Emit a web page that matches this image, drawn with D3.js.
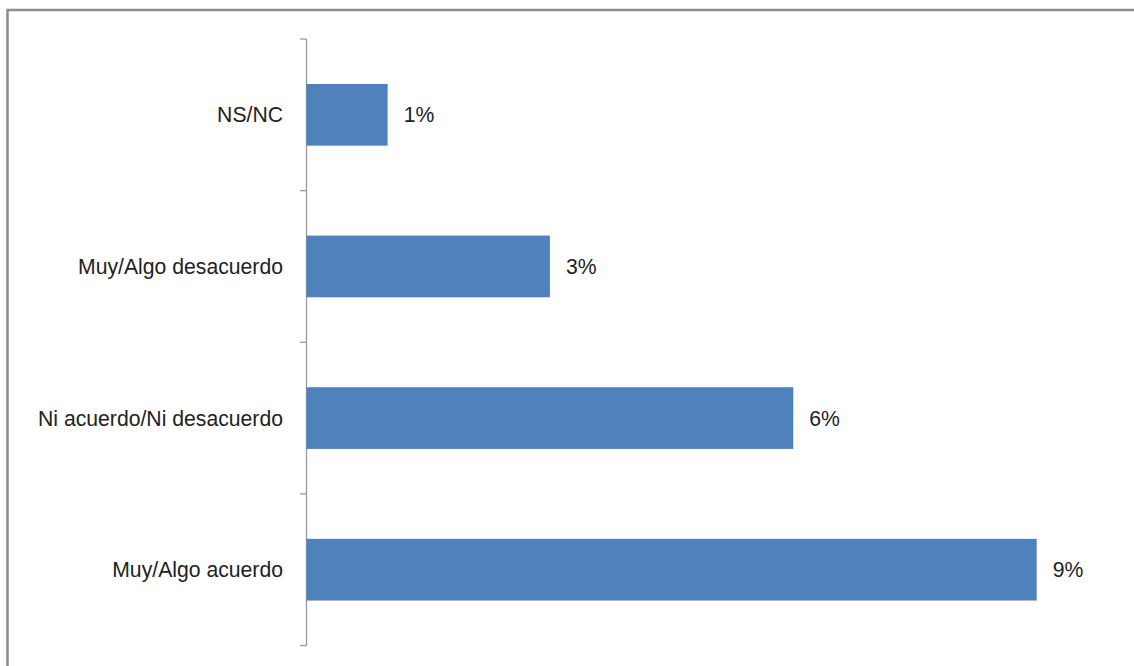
<!DOCTYPE html>
<html>
<head>
<meta charset="utf-8">
<script src="https://cdn.jsdelivr.net/npm/d3@7"></script>
<style>
  body { margin: 0; background: #fff; }
  svg { display: block; }
  .cat_label, .val_label { font-family: "Liberation Sans", Arial, sans-serif; font-size: 21.2px; fill: #222; }
</style>
</head>
<body>
<svg width="1134" height="666"></svg>
<script>
// chart data, top to bottom
const categories = ['NS/NC', 'Muy/Algo desacuerdo', 'Ni acuerdo/Ni desacuerdo', 'Muy/Algo acuerdo'];
const values = [1, 3, 6, 9];
const value_labels = ['1%', '3%', '6%', '9%'];

const svg = d3.select('svg');

// outer frame, runs off the right and bottom edge
svg.append('rect')
  .attr('x', 7.5)
  .attr('y', 10)
  .attr('width', 1140)
  .attr('height', 680)
  .attr('fill', 'none')
  .attr('stroke', '#8c8c8c')
  .attr('stroke-width', 2.5);

const axis_x = 306.5;
const y = d3.scaleBand()
  .domain(categories)
  .range([39, 645.5])
  .paddingInner(0.593)
  .paddingOuter(0.2965);

const x = d3.scaleLinear()
  .domain([0, 9])
  .range([axis_x, 1036.7]);

// category axis with ticks between the bands
const axis_g = svg.append('g');
axis_g.append('line')
  .attr('x1', axis_x).attr('x2', axis_x)
  .attr('y1', y.range()[0]).attr('y2', y.range()[1])
  .attr('stroke', '#999').attr('stroke-width', 1.3);
const step = y.step();
const tick_ys = d3.range(categories.length + 1).map(i => y.range()[0] + i * step);
axis_g.selectAll('.tick_line')
  .data(tick_ys)
  .join('line')
  .attr('class', 'tick_line')
  .attr('x1', axis_x - 6.5).attr('x2', axis_x)
  .attr('y1', d => d).attr('y2', d => d)
  .attr('stroke', '#999').attr('stroke-width', 1.3);

// bars
svg.selectAll('.bar')
  .data(categories)
  .join('rect')
  .attr('class', 'bar')
  .attr('x', x(0))
  .attr('y', d => y(d))
  .attr('width', (d, i) => x(values[i]) - x(0))
  .attr('height', y.bandwidth())
  .attr('fill', '#4f81bd');

// category labels
svg.selectAll('.cat_label')
  .data(categories)
  .join('text')
  .attr('class', 'cat_label')
  .attr('x', 283)
  .attr('y', d => y(d) + y.bandwidth() / 2)
  .attr('dy', '0.36em')
  .attr('text-anchor', 'end')
  .text(d => d);

// value labels
svg.selectAll('.val_label')
  .data(categories)
  .join('text')
  .attr('class', 'val_label')
  .attr('x', (d, i) => x(values[i]) + 16)
  .attr('y', d => y(d) + y.bandwidth() / 2)
  .attr('dy', '0.36em')
  .text((d, i) => value_labels[i]);
</script>
</body>
</html>
